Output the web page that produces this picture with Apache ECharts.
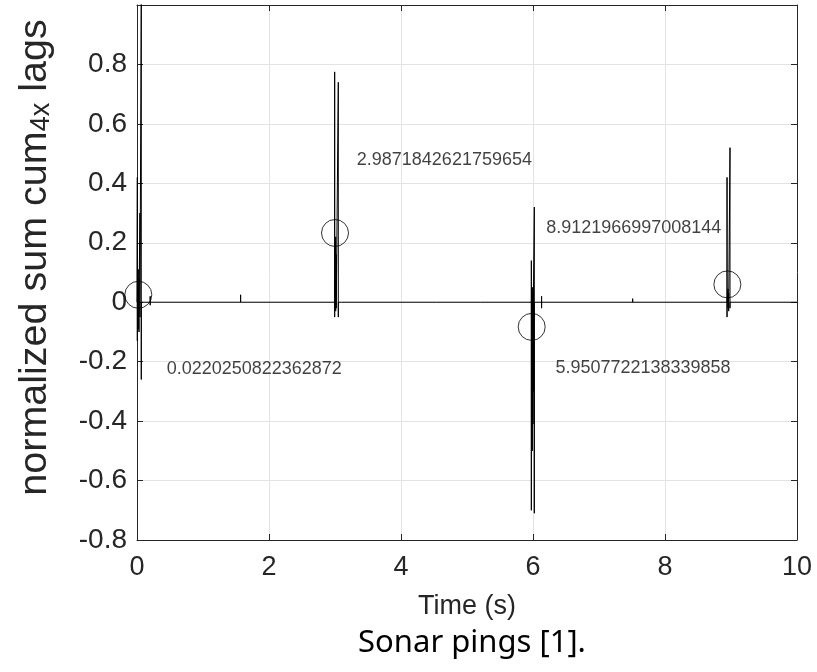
<!DOCTYPE html>
<html>
<head>
<meta charset="utf-8">
<script src="https://cdn.jsdelivr.net/npm/echarts@6/dist/echarts.min.js"></script>
<style>
  html, body { margin: 0; padding: 0; background: #fff; }
  #main { width: 817px; height: 672px; }
</style>
</head>
<body>
<div id="main"></div>
<script>
// spikes of the signal: time, top and bottom of each vertical stroke
const spikeTime = [
  0.005, 0.02, 0.03, 0.045, 0.065, 0.2,
  1.57,
  2.995, 3.01, 3.02, 3.05, 3.1,
  4.54, 5.2,
  5.975, 5.99, 6.0, 6.005, 6.02, 6.13,
  7.51,
  8.94, 8.955, 8.965, 8.985
];
const spikeTop = [
  0.42, 0.11, 0.08, 0.3, 1.05, 0.02,
  0.025,
  0.775, 0.22, 0.16, 0.74, 0.006,
  0.006, 0.006,
  0.14, 0.05, 0.03, 0.04, 0.32, 0.02,
  0.012,
  0.42, 0.045, 0.03, 0.52
];
const spikeBottom = [
  -0.13, -0.09, -0.1, -0.05, -0.26, -0.01,
  0,
  -0.05, -0.03, -0.02, -0.05, 0,
  0, 0,
  -0.7, -0.5, -0.41, -0.3, -0.71, -0.02,
  0,
  -0.05, -0.02, -0.03, -0.02
];
const xRange = [0, 10];

// detected pings (circles)
const pingTime = [0.02, 3.0, 5.98, 8.945];
const pingValue = [0.025, 0.233, -0.083, 0.06];

// annotation texts and where they sit
const noteText = ['0.0220250822362872', '2.9871842621759654', '5.9507722138339858', '8.9121966997008144'];
const noteTime = [0.45, 3.33, 6.34, 6.2];
const noteValue = [-0.225, 0.478, -0.222, 0.248];

const yMin = -0.8, yMax = 1.0, yStep = 0.2;

const chart = echarts.init(document.getElementById('main'));

const axisCol = '#262626';
const gridCol = '#e3e3e3';

// baseline at 0 with a stroke going up and down at every spike
const signal = [[xRange[0], 0]];
spikeTime.forEach(function (t, i) {
  signal.push([t, 0], [t, spikeTop[i]], [t, spikeBottom[i]], [t, 0]);
});
signal.push([xRange[1], 0]);

const pings = pingTime.map((t, i) => [t, pingValue[i]]);
const notes = noteText.map((s, i) => ({ name: s, value: [noteTime[i], noteValue[i]] }));

var option = {
  animation: false,
  backgroundColor: '#fff',
  title: {
    text: 'Sonar pings [1].',
    left: 467,
    textAlign: 'center',
    top: 623,
    textStyle: { fontFamily: 'Noto Sans', fontWeight: 'normal', fontSize: 31, color: '#000' }
  },
  grid: { left: 137, right: 20, top: 5, bottom: 132 },
  xAxis: [{
    type: 'value',
    min: xRange[0], max: xRange[1], interval: 2,
    name: 'Time (s)',
    nameLocation: 'middle',
    nameGap: 53,
    nameTextStyle: { fontFamily: 'Liberation Sans', fontSize: 27, color: axisCol },
    axisLine: { onZero: false, lineStyle: { color: axisCol, width: 1 } },
    axisTick: { inside: true, length: 6, lineStyle: { color: axisCol } },
    axisLabel: { fontFamily: 'Liberation Sans', fontSize: 27, color: axisCol, margin: 14 },
    splitLine: { show: true, lineStyle: { color: gridCol, width: 1 } }
  }, {
    type: 'value', position: 'top',
    min: xRange[0], max: xRange[1], interval: 2,
    axisLine: { onZero: false, lineStyle: { color: axisCol, width: 1 } },
    axisTick: { inside: true, length: 6, lineStyle: { color: axisCol } },
    axisLabel: { show: false },
    splitLine: { show: false }
  }],
  yAxis: [{
    type: 'value',
    min: yMin, max: yMax, interval: yStep,
    name: '{a|normalized sum cum}{b|4x}{a| lags}',
    nameLocation: 'middle',
    nameRotate: 90,
    nameGap: 82,
    nameTextStyle: {
      padding: [0, 0, 0, 30],
      rich: {
        a: { fontFamily: 'Liberation Sans', fontSize: 39.5, color: axisCol, verticalAlign: 'bottom', lineHeight: 45 },
        b: { fontFamily: 'Liberation Sans', fontSize: 27, color: axisCol, verticalAlign: 'bottom', padding: [16, 0, 0, 0], lineHeight: 45 }
      }
    },
    axisLine: { onZero: false, lineStyle: { color: axisCol, width: 1 } },
    axisTick: { inside: true, length: 6, lineStyle: { color: axisCol } },
    axisLabel: {
      fontFamily: 'Liberation Sans', fontSize: 28, color: axisCol, margin: 10,
      formatter: function (v) { return v > 0.95 ? '' : String(Math.round(v * 10) / 10); }
    },
    splitLine: { show: true, lineStyle: { color: gridCol, width: 1 } }
  }, {
    type: 'value', position: 'right',
    min: yMin, max: yMax, interval: yStep,
    axisLine: { onZero: false, lineStyle: { color: axisCol, width: 1 } },
    axisTick: { inside: true, length: 6, lineStyle: { color: axisCol } },
    axisLabel: { show: false },
    splitLine: { show: false }
  }],
  series: [{
    name: 'signal',
    type: 'line',
    data: signal,
    showSymbol: false,
    symbol: 'none',
    sampling: null,
    clip: true,
    lineStyle: { color: '#000', width: 1 },
    z: 3
  }, {
    name: 'pings',
    type: 'scatter',
    data: pings,
    symbol: 'circle',
    symbolSize: 27,
    itemStyle: { color: 'rgba(0,0,0,0)', borderColor: '#000', borderWidth: 1 },
    z: 4
  }, {
    name: 'notes',
    type: 'scatter',
    data: notes,
    symbolSize: 0,
    label: {
      show: true,
      position: 'right',
      distance: 0,
      formatter: '{b}',
      fontFamily: 'Liberation Sans',
      fontSize: 18,
      color: '#111'
    },
    z: 5
  }]
};
chart.setOption(option);
</script>
</body>
</html>
